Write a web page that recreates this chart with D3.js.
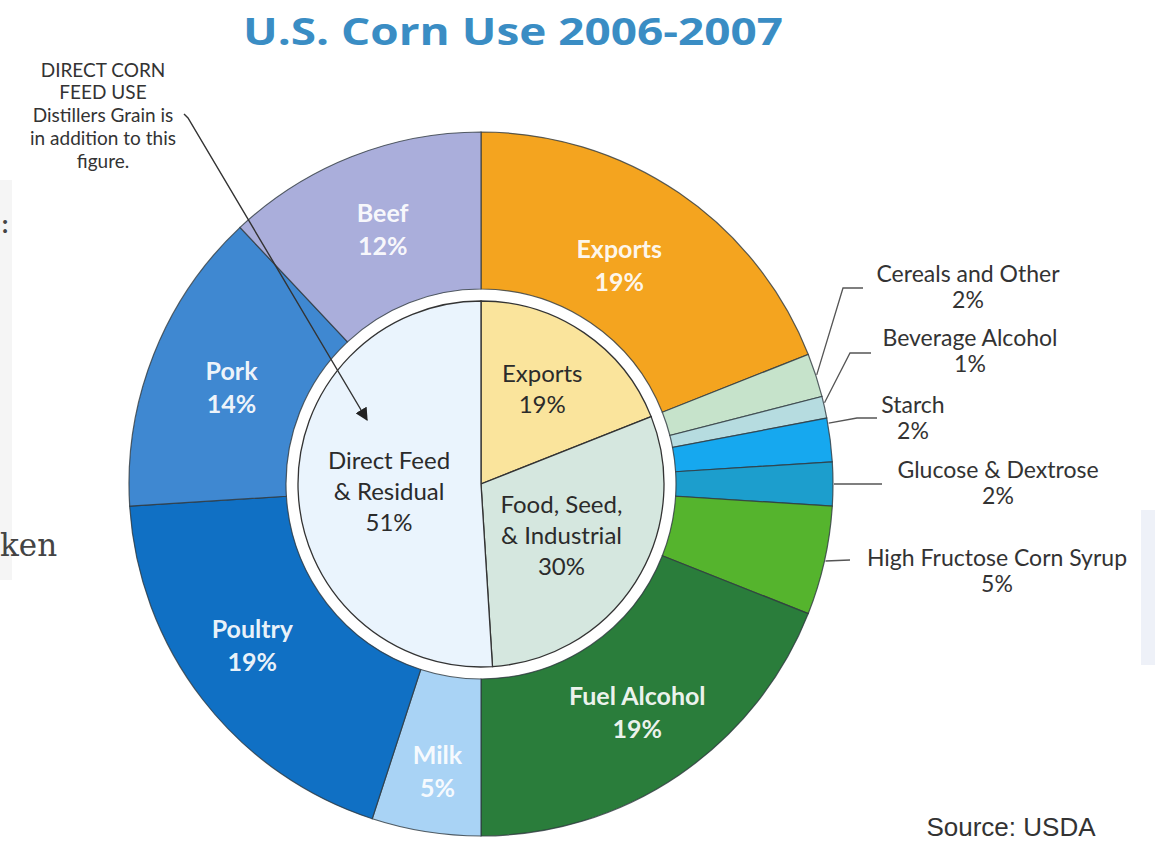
<!DOCTYPE html>
<html>
<head>
<meta charset="utf-8">
<script src="https://cdn.jsdelivr.net/npm/d3@7"></script>
<style>
  body { margin: 0; background: #fff; }
  svg { display: block; }
</style>
</head>
<body>
<div id="chart"></div>
<script>
// inner pie: the three big uses
const innerNames = ['Exports', 'Food, Seed,\n& Industrial', 'Direct Feed\n& Residual'];
const innerValues = [19, 30, 51];
const innerColors = ['#fae49c', '#d5e7df', '#eaf4fd'];

// outer ring: breakdown, clockwise from 12 o'clock
const outerNames = ['Exports', 'Cereals and Other', 'Beverage Alcohol', 'Starch',
  'Glucose & Dextrose', 'High Fructose Corn Syrup', 'Fuel Alcohol',
  'Milk', 'Poultry', 'Pork', 'Beef'];
const outerValues = [19, 2, 1, 2, 2, 5, 19, 5, 19, 14, 12];
const outerColors = ['#f4a41f', '#c6e3cb', '#b6dce0', '#16a8ef', '#1c9ecd', '#55b42d',
  '#2a7d3b', '#a9d3f5', '#1070c4', '#3f88d1', '#aaaedb'];

const W = 1155, H = 867;
const cx = 481, cy = 484;
const R = 352, ringIn = 195, pieR = 183;

const svg = d3.select('#chart').append('svg')
  .attr('width', W)
  .attr('height', H);

// stray bits of the host page around the image
svg.append('rect').attr('x', 0).attr('y', 180).attr('width', 12).attr('height', 400).attr('fill', '#f5f5f5');
svg.append('rect').attr('x', 1141).attr('y', 510).attr('width', 14).attr('height', 155).attr('fill', '#eef1f8');
svg.append('text').attr('x', 0).attr('y', 233).text(':')
  .attr('font-family', 'DejaVu Serif').attr('font-size', 30).attr('fill', '#444');
svg.append('text').attr('x', 0).attr('y', 556).text('ken')
  .attr('font-family', 'DejaVu Serif').attr('font-size', 31).attr('fill', '#444');

svg.append('text')
  .attr('x', 513).attr('y', 45)
  .attr('text-anchor', 'middle')
  .attr('font-family', 'Open Sans').attr('font-weight', 700).attr('font-size', 38)
  .attr('textLength', 540).attr('lengthAdjust', 'spacingAndGlyphs')
  .attr('fill', '#3a8dc4')
  .text('U.S. Corn Use 2006-2007');

const g = svg.append('g').attr('transform', `translate(${cx},${cy})`);

const pie = d3.pie().sort(null).value(d => d);

const outerArcs = pie(outerValues);
const innerArcs = pie(innerValues);

const ring = d3.arc().innerRadius(ringIn).outerRadius(R);
const inner = d3.arc().innerRadius(0).outerRadius(pieR);

g.selectAll('path.outer')
  .data(outerArcs)
  .enter()
  .append('path')
    .attr('class', 'outer')
    .attr('d', ring)
    .attr('fill', (d, i) => outerColors[i])
    .attr('stroke', '#2f3a40')
    .attr('stroke-opacity', 0.8)
    .attr('stroke-width', 1.2);

g.selectAll('path.inner')
  .data(innerArcs)
  .enter()
  .append('path')
    .attr('class', 'inner')
    .attr('d', inner)
    .attr('fill', (d, i) => innerColors[i])
    .attr('stroke', '#333')
    .attr('stroke-width', 1.3);

// white labels inside the big ring slices (index, nudge x, nudge y)
const bigOuter = [[0, -18, 8], [6, 0, -5], [7, 0, 9], [8, -9, -12], [9, 9, 2], [10, 4, 0]];
const labelArc = d3.arc().innerRadius(278).outerRadius(278);

const outLab = g.selectAll('text.outlab')
  .data(bigOuter)
  .enter()
  .append('text')
    .attr('class', 'outlab')
    .attr('transform', d => {
      const c = labelArc.centroid(outerArcs[d[0]]);
      return `translate(${c[0] + d[1]},${c[1] + d[2]})`;
    })
    .attr('text-anchor', 'middle')
    .attr('font-family', 'Lato').attr('font-weight', 700).attr('font-size', 25)
    .attr('fill', '#fff')
    .attr('fill-opacity', 0.93);
outLab.append('tspan').attr('x', 0).attr('dy', -4).text(d => outerNames[d[0]]);
outLab.append('tspan').attr('x', 0).attr('dy', 33).text(d => outerValues[d[0]] + '%');

// inner pie labels
const innerLabArc = d3.arc().innerRadius(100).outerRadius(100);
const innerNudge = [[5, -12], [-4, -2], [8, 5]];
const inLab = g.selectAll('text.inlab')
  .data(innerArcs)
  .enter()
  .append('text')
    .attr('class', 'inlab')
    .attr('transform', (d, i) => {
      const c = innerLabArc.centroid(d);
      return `translate(${c[0] + innerNudge[i][0]},${c[1] + innerNudge[i][1]})`;
    })
    .attr('text-anchor', 'middle')
    .attr('font-family', 'Lato').attr('font-size', 24)
    .attr('fill', '#2b2b2b');
inLab.each(function (d, i) {
  const lines = innerNames[i].split('\n').concat([innerValues[i] + '%']);
  const t = d3.select(this);
  lines.forEach((s, k) => {
    t.append('tspan')
      .attr('x', 0)
      .attr('dy', k === 0 ? -(lines.length - 1) * 15.5 + 8 : 31)
      .text(s);
  });
});

// callouts for the thin slices on the right (f = where on the slice the line starts)
const callouts = [
  { i: 1, f: 0.5, elbow: [843, 288], end: [863, 288], tx: 968, ty: 282 },
  { i: 2, f: 0.3, elbow: [850, 353], end: [871, 353], tx: 970, ty: 346 },
  { i: 3, f: 0.12, elbow: [857, 418], end: [877, 418], tx: 913, ty: 413 },
  { i: 4, f: 0.5, elbow: null, end: [882, 484], tx: 998, ty: 478 },
  { i: 5, f: 0.5, elbow: null, end: [850, 560], tx: 997, ty: 566 }
];

callouts.forEach(c => {
  const a = outerArcs[c.i];
  const ang = a.startAngle + c.f * (a.endAngle - a.startAngle);
  const sx = cx + (R + 1) * Math.sin(ang);
  const sy = cy - (R + 1) * Math.cos(ang);
  const pts = [[sx, sy]];
  if (c.elbow) pts.push(c.elbow);
  pts.push(c.end);
  svg.append('path')
    .attr('d', d3.line()(pts))
    .attr('fill', 'none')
    .attr('stroke', '#555')
    .attr('stroke-width', 1.3);
  const t = svg.append('text')
    .attr('x', c.tx).attr('y', c.ty)
    .attr('text-anchor', 'middle')
    .attr('font-family', 'Lato').attr('font-size', 23)
    .attr('fill', '#333');
  t.append('tspan').attr('x', c.tx).text(outerNames[c.i]);
  t.append('tspan').attr('x', c.tx).attr('dy', 26).text(outerValues[c.i] + '%');
});

// annotation and arrow
const note = ['DIRECT CORN', 'FEED USE', 'Distillers Grain is', 'in addition to this', 'figure.'];
const noteY = [77, 99, 122, 145, 168];
svg.append('g')
  .selectAll('text')
  .data(note)
  .enter()
  .append('text')
    .attr('x', 103)
    .attr('y', (d, i) => noteY[i])
    .attr('text-anchor', 'middle')
    .attr('font-family', 'Lato').attr('font-size', 19)
    .attr('fill', '#333')
    .text(d => d);

svg.append('defs').append('marker')
  .attr('id', 'arrow')
  .attr('viewBox', '0 0 10 10')
  .attr('refX', 9).attr('refY', 5)
  .attr('markerWidth', 13).attr('markerHeight', 13)
  .attr('markerUnits', 'userSpaceOnUse')
  .attr('orient', 'auto')
  .append('path')
    .attr('d', 'M0,0 L10,5 L0,10 Z')
    .attr('fill', '#222');

svg.append('path')
  .attr('d', d3.line()([[184, 114], [188, 118], [367, 420]]))
  .attr('fill', 'none')
  .attr('stroke', '#333')
  .attr('stroke-width', 1.4)
  .attr('marker-end', 'url(#arrow)');

svg.append('text')
  .attr('x', 1011).attr('y', 836)
  .attr('text-anchor', 'middle')
  .attr('font-family', 'Liberation Sans').attr('font-size', 26)
  .attr('fill', '#333')
  .text('Source: USDA');
</script>
</body>
</html>
